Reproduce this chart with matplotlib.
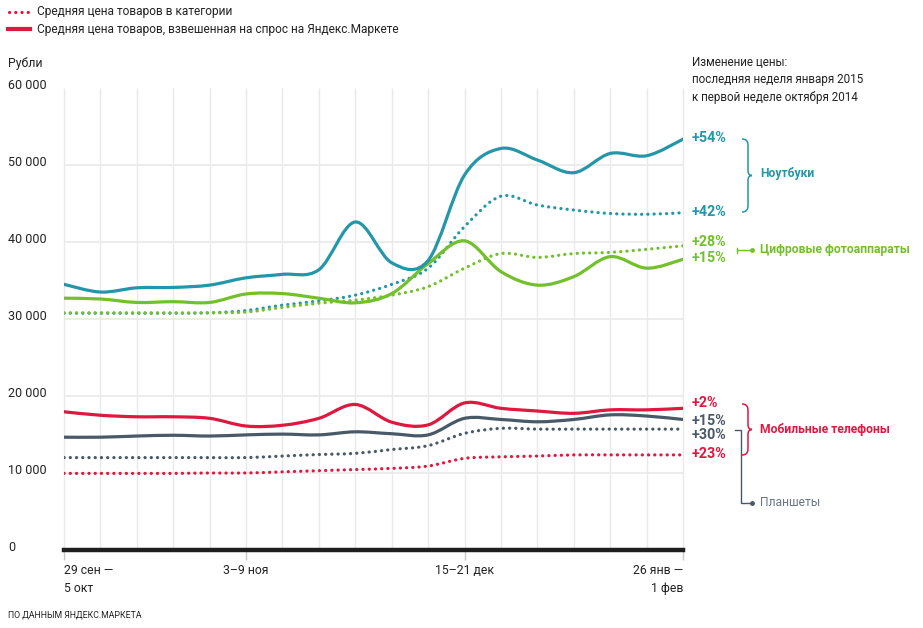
import matplotlib
matplotlib.use('Agg')
import matplotlib.pyplot as plt
import matplotlib.transforms as mtransforms
from matplotlib.path import Path
from matplotlib.patches import PathPatch
import numpy as np

plt.rcParams['font.family'] = ['Roboto', 'DejaVu Sans']

# недели: 29 сен – 5 окт ... 26 янв – 1 фев (18 недель)
weeks = list(range(18))
tick_weeks = [0, 5, 11, 17]
tick_labels = ['29 сен —\n5 окт', '3–9 ноя', '15–21 дек', '26 янв —\n1 фев']

# Ноутбуки
notebook_demand = [34500, 33500, 34050, 34100, 34400, 35350, 35800, 36400, 42600,
                   37300, 37600, 48700, 52150, 50650, 49000, 51500, 51200, 53350]
notebook_avg = [30750, 30750, 30750, 30750, 30800, 31100, 31800, 32350, 33100,
                34500, 36600, 42000, 45950, 44800, 44150, 43700, 43600, 43800]
# Цифровые фотоаппараты
camera_demand = [32700, 32600, 32150, 32250, 32150, 33250, 33300, 32700, 32100,
                 33300, 37200, 40150, 36150, 34400, 35500, 38100, 36600, 37750]
camera_avg = [30800, 30800, 30800, 30800, 30800, 30900, 31500, 32050, 32450,
              33100, 34200, 36600, 38500, 38000, 38500, 38650, 39050, 39500]
# Мобильные телефоны
phone_demand = [17950, 17500, 17300, 17300, 17100, 16100, 16200, 17100, 18900,
                16600, 16250, 19100, 18400, 18050, 17750, 18200, 18200, 18400]
phone_avg = [9950, 9950, 9950, 9950, 10000, 10000, 10150, 10300, 10450,
             10600, 10900, 11900, 12100, 12200, 12350, 12350, 12350, 12350]
# Планшеты
tablet_demand = [14650, 14650, 14800, 14900, 14800, 14950, 15050, 14950, 15350,
                 15100, 14950, 17100, 16950, 16650, 16950, 17550, 17400, 16950]
tablet_avg = [12000, 12000, 12000, 12000, 12000, 12000, 12200, 12400, 12550,
              13050, 13550, 15150, 15800, 15700, 15700, 15700, 15700, 15700]

TEAL = '#2496a9'
GREEN = '#72c02a'
RED = '#e0173f'
GRAY = '#4a5968'
GRID = '#eaeaea'
INK = '#222222'


def smooth_path(xs, ys):
    # Catmull-Rom -> кривые Безье, рисует сам matplotlib
    p = np.column_stack([xs, ys]).astype(float)
    ext = np.vstack([p[0], p, p[-1]])
    verts = [p[0]]
    codes = [Path.MOVETO]
    for i in range(len(p) - 1):
        p0, p1, p2, p3 = ext[i], ext[i + 1], ext[i + 2], ext[i + 3]
        verts += [p1 + (p2 - p0) / 6, p2 - (p3 - p1) / 6, p2]
        codes += [Path.CURVE4] * 3
    return Path(verts, codes)


def draw_series(ax, ys, color, dotted):
    if dotted:
        patch = PathPatch(smooth_path(weeks, ys), fill=False, edgecolor=color,
                          lw=2.3, linestyle=(0, (0.05, 1.9)), capstyle='round', zorder=3)
    else:
        patch = PathPatch(smooth_path(weeks, ys), fill=False, edgecolor=color,
                          lw=2.3, capstyle='round', zorder=4)
    ax.add_patch(patch)


fig = plt.figure(figsize=(9.23, 6.28), dpi=100)
ax = fig.add_axes([64 / 923, 1 - 550 / 628, (683 - 64) / 923, (550 - 88) / 628])
ax.set_xlim(0, 17)
ax.set_ylim(0, 60000)
ax.axis('off')

ax.vlines(weeks, 0, 60000, color=GRID, lw=1, zorder=1, clip_on=False)
ax.hlines(range(10000, 60000, 10000), 0, 17, color=GRID, lw=1.3, zorder=1)
ax.axhline(0, color='#1e1e1e', lw=3.2, zorder=5, clip_on=False)
ax.vlines(tick_weeks, -1300, 0, color='#c8c8c8', lw=1, clip_on=False)

for ys, c in [(notebook_avg, TEAL), (camera_avg, GREEN), (tablet_avg, GRAY), (phone_avg, RED)]:
    draw_series(ax, ys, c, True)
for ys, c in [(tablet_demand, GRAY), (phone_demand, RED), (camera_demand, GREEN), (notebook_demand, TEAL)]:
    draw_series(ax, ys, c, False)

# подписи оси Y
ytr = mtransforms.blended_transform_factory(fig.transFigure, ax.transData)
for v in range(0, 60001, 10000):
    lbl = '0' if v == 0 else f'{v // 1000} 000'
    ax.text(8 / 923, v + 300, lbl, transform=ytr, ha='left', va='center',
            fontsize=9, color=INK)

# подписи оси X
xtr = mtransforms.blended_transform_factory(ax.transData, fig.transFigure)
aligns = ['left', 'center', 'center', 'right']
for w, lbl, ha in zip(tick_weeks, tick_labels, aligns):
    ax.text(w, 1 - 564 / 628, lbl, transform=xtr, ha=ha, va='top', fontsize=8.8,
            color=INK, linespacing=1.5)

# слой поверх всего в пикселях
ov = fig.add_axes([0, 0, 1, 1], zorder=10)
ov.set_xlim(0, 923)
ov.set_ylim(628, 0)
ov.axis('off')

ov.plot([9, 30], [12, 12], color=RED, lw=2.3, linestyle=(0, (0.05, 1.9)), dash_capstyle='round')
ov.plot([8, 30], [29, 29], color=RED, lw=3)
ov.text(37, 12, 'Средняя цена товаров в категории', fontsize=8.6, va='center', color=INK)
ov.text(37, 29, 'Средняя цена товаров, взвешенная на спрос на Яндекс.Маркете', fontsize=8.6,
        va='center', color=INK)
ov.text(8, 63, 'Рубли', fontsize=8.8, va='center', color=INK)
for i, line in enumerate(['Изменение цены:', 'последняя неделя января 2015',
                          'к первой неделе октября 2014']):
    ov.text(692, 63 + 17 * i, line, fontsize=8.4, va='center', color=INK)
ov.text(8, 615, 'ПО ДАННЫМ ЯНДЕКС.МАРКЕТА', fontsize=6.3, va='center', color=INK)

pct = [('+54%', 138, TEAL), ('+42%', 212, TEAL), ('+28%', 242, GREEN), ('+15%', 258, GREEN),
       ('+2%', 403, RED), ('+15%', 421, GRAY), ('+30%', 435, GRAY), ('+23%', 454, RED)]
for t, y, c in pct:
    ov.text(692, y, t, fontsize=10.3, fontweight='bold', color=c, va='center')


def brace(x0, y0, y1, color):
    ym = (y0 + y1) / 2
    xv = x0 + 6
    verts = [(x0, y0), (xv, y0), (xv, y0 + 6), (xv, ym - 5), (xv, ym), (xv + 4, ym),
             (xv, ym), (xv, ym + 5), (xv, y1 - 6), (xv, y1), (x0, y1)]
    codes = [Path.MOVETO, Path.CURVE3, Path.CURVE3, Path.LINETO, Path.CURVE3, Path.CURVE3,
             Path.CURVE3, Path.CURVE3, Path.LINETO, Path.CURVE3, Path.CURVE3]
    ov.add_patch(PathPatch(Path(verts, codes), fill=False, edgecolor=color, lw=1.1))


brace(742, 139, 212, TEAL)
ov.text(760, 174, 'Ноутбуки', fontsize=8.7, fontweight='bold', color=TEAL, va='center')

ov.plot([737, 752], [250, 250], color=GREEN, lw=1)
ov.plot([737, 737], [247.5, 252.5], color=GREEN, lw=1)
ov.plot([752], [250], 'o', color=GREEN, ms=2.5)
ov.text(760, 250, 'Цифровые фотоаппараты', fontsize=8.7, fontweight='bold', color=GREEN, va='center')

brace(742, 404, 455, RED)
ov.text(760, 430, 'Мобильные телефоны', fontsize=8.7, fontweight='bold', color=RED, va='center')

ov.plot([735, 741, 741, 752], [430, 430, 503, 503], color=GRAY, lw=1)
ov.plot([752], [503], 'o', color=GRAY, ms=2.5)
ov.text(760, 503, 'Планшеты', fontsize=8.7, color='#6a7683', va='center')

fig.savefig('out.png', dpi=100)
